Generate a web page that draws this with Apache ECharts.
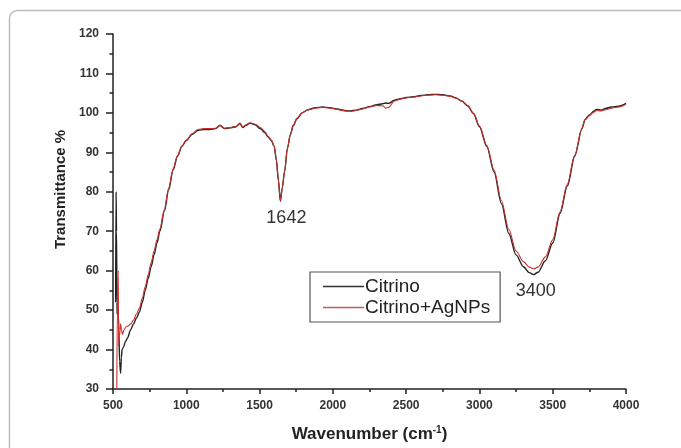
<!DOCTYPE html>
<html>
<head>
<meta charset="utf-8">
<script src="https://cdn.jsdelivr.net/npm/echarts@6/dist/echarts.min.js"></script>
<style>
  html, body { margin: 0; padding: 0; background: #fff; }
  #chart { width: 681px; height: 448px; }
</style>
</head>
<body>
<div id="chart"></div>
<script>
// FTIR spectra, wavenumber (cm-1) vs transmittance (%)
var citrinoW = [518, 521, 524, 527, 529, 535, 540, 545, 552, 557, 562, 570, 585, 600, 620, 640, 660, 680, 700, 720, 740, 760, 780, 800, 820, 850, 880, 910, 940, 970, 1000, 1040, 1080, 1120, 1160, 1200, 1230, 1260, 1300, 1340, 1366, 1385, 1405, 1434, 1470, 1505, 1535, 1560, 1580, 1600, 1615, 1628, 1642, 1655, 1670, 1690, 1710, 1730, 1755, 1790, 1830, 1880, 1930, 1980, 2030, 2080, 2120, 2160, 2200, 2250, 2300, 2340, 2360, 2380, 2420, 2460, 2500, 2550, 2600, 2650, 2700, 2750, 2800, 2840, 2880, 2920, 2960, 3000, 3050, 3100, 3150, 3200, 3250, 3300, 3340, 3370, 3400, 3450, 3500, 3550, 3600, 3650, 3700, 3720, 3750, 3780, 3800, 3830, 3860, 3900, 3950, 4000];
var citrinoT = [52, 80, 70, 52, 49, 49, 45, 37, 34, 38, 40, 40.5, 42, 43, 45, 46.5, 48, 49.5, 52, 55, 58, 61, 64, 67, 70, 75, 80.5, 85.5, 89, 91.5, 93, 94.6, 95.6, 95.8, 95.8, 96, 96.8, 96, 96.2, 96.5, 97.3, 96.3, 96.8, 97.4, 97, 96, 95, 93.8, 93, 91.5, 88, 83, 77.6, 81, 85, 91, 94.5, 96.8, 98.5, 100, 100.8, 101.3, 101.5, 101.3, 101, 100.6, 100.5, 100.7, 101.1, 101.6, 102.1, 102.3, 102.5, 102.4, 103.2, 103.6, 103.9, 104.1, 104.4, 104.6, 104.7, 104.6, 104.3, 103.8, 103, 101.8, 99.8, 96.5, 91.5, 85, 77, 69.5, 64, 61, 59.5, 59, 59.6, 62.5, 67, 74.5, 81.5, 89, 96, 98.3, 99.5, 100.4, 100.9, 100.7, 101.1, 101.5, 101.7, 102.4];

var agnpW = [526, 529, 533, 536, 538, 545, 552, 558, 565, 575, 590, 605, 620, 640, 660, 680, 700, 720, 740, 760, 780, 800, 820, 850, 880, 910, 940, 970, 1000, 1040, 1080, 1120, 1160, 1200, 1230, 1260, 1300, 1340, 1366, 1385, 1405, 1434, 1470, 1505, 1535, 1560, 1580, 1600, 1615, 1628, 1642, 1655, 1670, 1690, 1710, 1730, 1755, 1790, 1830, 1880, 1930, 1980, 2030, 2080, 2120, 2160, 2200, 2250, 2300, 2340, 2360, 2380, 2420, 2460, 2500, 2550, 2600, 2650, 2700, 2750, 2800, 2840, 2880, 2920, 2960, 3000, 3050, 3100, 3150, 3200, 3250, 3300, 3340, 3370, 3400, 3450, 3500, 3550, 3600, 3650, 3700, 3720, 3750, 3780, 3800, 3830, 3860, 3900, 3950, 4000];
var agnpT = [30, 49, 49, 60, 41, 43.5, 46.5, 45, 43.8, 45, 45.8, 46, 46.5, 47.5, 49, 50.5, 53, 56, 59, 62, 65, 67.8, 70.6, 75.5, 81, 85.8, 89.2, 91.6, 93.1, 94.7, 95.8, 96, 96, 96.1, 96.9, 96.1, 96.3, 96.6, 97.4, 96.4, 96.9, 97.5, 97.1, 96.3, 95.3, 94, 93.1, 91.5, 88, 83, 77.8, 81, 85, 91, 94.6, 96.9, 98.6, 100, 100.8, 101.2, 101.4, 101.2, 100.9, 100.5, 100.4, 100.6, 101, 101.5, 101.9, 101.8, 101.2, 101.4, 103, 103.5, 103.8, 104, 104.3, 104.5, 104.6, 104.5, 104.2, 103.7, 103, 101.8, 99.9, 96.7, 91.8, 85.5, 77.8, 70.5, 65, 62.3, 60.9, 60.5, 60.9, 63.5, 67.8, 75, 82, 89.3, 96.2, 98.2, 99.3, 100.2, 100.6, 100.5, 100.8, 101.2, 101.5, 102.2];

var seriesNames = ['Citrino', 'Citrino+AgNPs'];
var peakW = [1642, 3370];
var peakT = [77.6, 59];
var peakText = ['1642', '3400'];

function pairs(xs, ys) {
    return xs.map(function (x, i) { return [x, ys[i]]; });
}

var chart = echarts.init(document.getElementById('chart'), null, { renderer: 'canvas' });

var tickStyle = { color: '#222', width: 1.5 };

var option = {
    animation: false,
    backgroundColor: '#fff',
    graphic: [{
        type: 'rect',
        shape: { x: 9.5, y: 10.5, width: 720, height: 480, r: 8 },
        style: { fill: 'none', stroke: '#bdbdbd', lineWidth: 1.5 },
        silent: true
    }],
    grid: { left: 113, right: 55, top: 34, bottom: 54 },
    legend: {
        data: [
            { name: seriesNames[0], itemStyle: { color: '#333' } },
            { name: seriesNames[1], itemStyle: { color: '#c85a5a' } }
        ],
        orient: 'vertical',
        left: 310,
        top: 272,
        padding: [5, 10, 5, 13],
        itemGap: 2,
        itemWidth: 41,
        itemHeight: 1.5,
        icon: 'rect',
        borderColor: '#555',
        borderWidth: 1.2,
        backgroundColor: '#fff',
        textStyle: { fontFamily: 'Liberation Sans', fontSize: 19, lineHeight: 18, color: '#222', padding: [0, 0, 0, -4] }
    },
    xAxis: {
        type: 'value',
        min: 500,
        max: 4000,
        interval: 500,
        name: 'Wavenumber (cm{sup|-1})',
        nameLocation: 'middle',
        nameGap: 36,
        nameTextStyle: {
            fontFamily: 'Liberation Sans', fontSize: 17, fontWeight: 'bold', color: '#222',
            rich: { sup: { fontFamily: 'Liberation Sans', fontSize: 10, fontWeight: 'bold', color: '#222', padding: [0, 0, 9, 0] } }
        },
        axisLine: { show: true, lineStyle: tickStyle },
        axisTick: { show: true, inside: false, length: 5, lineStyle: tickStyle },
        minorTick: { show: true, splitNumber: 2, length: 3, lineStyle: tickStyle },
        splitLine: { show: false },
        axisLabel: {
            margin: 11, fontFamily: 'Liberation Sans', fontSize: 12, fontWeight: 'bold', color: '#333',
            formatter: function (v) { return String(v); }
        }
    },
    yAxis: {
        type: 'value',
        min: 30,
        max: 120,
        interval: 10,
        name: 'Transmittance %',
        nameLocation: 'middle',
        nameGap: 42,
        nameTextStyle: {
            fontFamily: 'Liberation Sans', fontSize: 15, fontWeight: 'bold', color: '#222',
            padding: [0, 0, 0, 44]
        },
        axisLine: { show: true, lineStyle: tickStyle },
        axisTick: { show: true, inside: false, length: 7, lineStyle: tickStyle },
        minorTick: { show: true, splitNumber: 2, length: 3.5, lineStyle: tickStyle },
        splitLine: { show: false },
        axisLabel: {
            margin: 14, fontFamily: 'Liberation Sans', fontSize: 12, fontWeight: 'bold', color: '#333',
            formatter: function (v) { return String(v); }
        }
    },
    series: [{
        name: seriesNames[0],
        type: 'line',
        data: pairs(citrinoW, citrinoT),
        showSymbol: false,
        symbol: 'none',
        smooth: 0.3,
        smoothMonotone: 'x',
        color: '#222',
        lineStyle: { color: '#222', width: 1.4 },
        markPoint: {
            symbol: 'circle',
            symbolSize: 1,
            itemStyle: { color: 'rgba(0,0,0,0)' },
            label: {
                show: true,
                position: 'inside',
                fontFamily: 'Liberation Sans',
                fontSize: 18,
                color: '#333',
                formatter: function (p) { return p.name; }
            },
            data: peakText.map(function (t, i) {
                return { name: t, coord: [peakW[i], peakT[i]], label: { offset: i === 0 ? [6, 17] : [2, 16] } };
            })
        }
    }, {
        name: seriesNames[1],
        type: 'line',
        data: pairs(agnpW, agnpT),
        showSymbol: false,
        symbol: 'none',
        smooth: 0.3,
        smoothMonotone: 'x',
        color: '#c9302c',
        lineStyle: { color: '#c9302c', width: 1.1 }
    }]
};

chart.setOption(option);
</script>
</body>
</html>
